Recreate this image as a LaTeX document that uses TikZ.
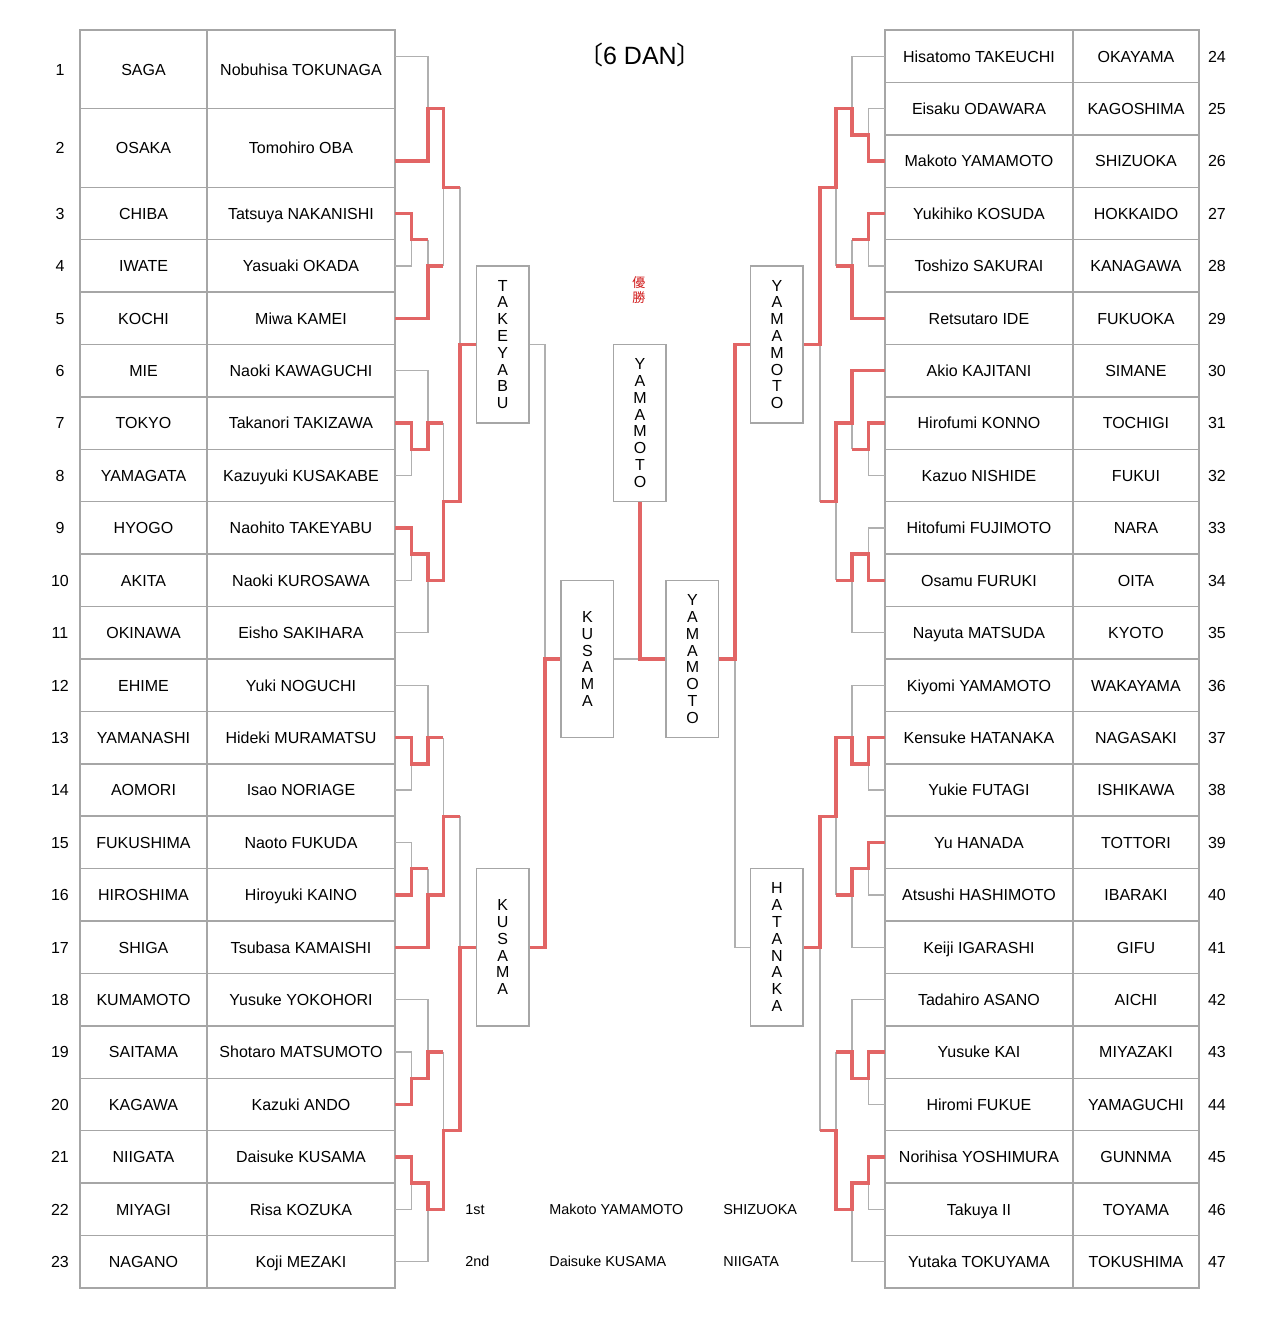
\documentclass[tikz,border=0pt]{standalone}
\usepackage{fontspec}
\setmainfont{Liberation Sans}
\newfontfamily\jpfont{Noto Sans CJK JP}
\usetikzlibrary{positioning}
\definecolor{winred}{HTML}{E26565}
\definecolor{linegray}{HTML}{B0B0B0}
\definecolor{tabgray}{HTML}{A6A6A6}
\definecolor{titlered}{HTML}{D01818}

\begin{document}
\begin{tikzpicture}[x=0.5pt, y=-13.104pt,
  font=\fontsize{8}{9.6}\selectfont,
  cell/.style={draw=tabgray, line width=0.75pt, inner sep=0pt, text height=5.8pt, text depth=0pt},
  prefcell/.style={cell, minimum width=63.5pt},
  namecell/.style={cell, minimum width=94pt},
  numlbl/.style={inner sep=0pt, text height=5.8pt, text depth=0pt},
  lost/.style={draw=linegray, line width=0.7pt},
  won/.style={draw=winred, line width=1.7pt},
  rbox/.style={draw=tabgray, fill=white, line width=0.75pt, inner sep=0pt,
               minimum width=26.25pt, minimum height=78.62pt, align=center,
               font=\fontsize{8}{8.4}\selectfont},
  res/.style={font=\fontsize{7.2}{8}\selectfont, anchor=west, inner sep=0pt,
              text height=5.2pt, text depth=0pt},
]
\useasboundingbox (0,-1.1447) rectangle (1280,49.2225);

% left table
\foreach \pref/\name [count=\i] in {SAGA/Nobuhisa TOKUNAGA, OSAKA/Tomohiro OBA,
    CHIBA/Tatsuya NAKANISHI, IWATE/Yasuaki OKADA, KOCHI/Miwa KAMEI,
    MIE/Naoki KAWAGUCHI, TOKYO/Takanori TAKIZAWA, YAMAGATA/Kazuyuki KUSAKABE,
    HYOGO/Naohito TAKEYABU, AKITA/Naoki KUROSAWA, OKINAWA/Eisho SAKIHARA,
    EHIME/Yuki NOGUCHI, YAMANASHI/Hideki MURAMATSU, AOMORI/Isao NORIAGE,
    FUKUSHIMA/Naoto FUKUDA, HIROSHIMA/Hiroyuki KAINO, SHIGA/Tsubasa KAMAISHI,
    KUMAMOTO/Yusuke YOKOHORI, SAITAMA/Shotaro MATSUMOTO, KAGAWA/Kazuki ANDO,
    NIIGATA/Daisuke KUSAMA, MIYAGI/Risa KOZUKA, NAGANO/Koji MEZAKI}{
  \pgfmathsetmacro{\yc}{\i<3 ? 3*\i-1.5 : 2*\i+1}
  \pgfmathsetmacro{\hh}{\i<3 ? 39.312 : 26.208}
  \pgfmathsetmacro{\yl}{\i==1 ? 1 : (\i==2 ? 5 : 2*\i+1)}
  \node[prefcell, minimum height=\hh pt] (lp\i) at (143.5,\yc) {\pref};
  \node[namecell, minimum height=\hh pt] (ln\i) at (301,\yc) {\name};
  \node[numlbl] (lno\i) at (60,\yc) {\i};
  \coordinate (pl\i) at (395,\yl);
}

% right table
\foreach \name/\pref [count=\j from 24] in {Hisatomo TAKEUCHI/OKAYAMA,
    Eisaku ODAWARA/KAGOSHIMA, Makoto YAMAMOTO/SHIZUOKA, Yukihiko KOSUDA/HOKKAIDO,
    Toshizo SAKURAI/KANAGAWA, Retsutaro IDE/FUKUOKA, Akio KAJITANI/SIMANE,
    Hirofumi KONNO/TOCHIGI, Kazuo NISHIDE/FUKUI, Hitofumi FUJIMOTO/NARA,
    Osamu FURUKI/OITA, Nayuta MATSUDA/KYOTO, Kiyomi YAMAMOTO/WAKAYAMA,
    Kensuke HATANAKA/NAGASAKI, Yukie FUTAGI/ISHIKAWA, Yu HANADA/TOTTORI,
    Atsushi HASHIMOTO/IBARAKI, Keiji IGARASHI/GIFU, Tadahiro ASANO/AICHI,
    Yusuke KAI/MIYAZAKI, Hiromi FUKUE/YAMAGUCHI, Norihisa YOSHIMURA/GUNNMA,
    Takuya II/TOYAMA, Yutaka TOKUYAMA/TOKUSHIMA}{
  \pgfmathsetmacro{\yc}{2*(\j-24)+1}
  \node[namecell, minimum height=26.208pt] (rn\j) at (979,\yc) {\name};
  \node[prefcell, minimum width=63pt, minimum height=26.208pt] (rp\j) at (1136,\yc) {\pref};
  \node[numlbl] (rno\j) at (1217,\yc) {\j};
  \coordinate (pr\j) at (885,\yc);
}

% round boxes
\node[rbox] (tak) at (502.75,12) {T\\A\\K\\E\\Y\\A\\B\\U};
\node[rbox] (kusl) at (502.75,35) {K\\U\\S\\A\\M\\A};
\node[rbox] (kusc) at (587.5,24) {K\\U\\S\\A\\M\\A};
\node[rbox] (champ) at (640,15) {Y\\A\\M\\A\\M\\O\\T\\O};
\node[rbox] (yamf) at (692.5,24) {Y\\A\\M\\A\\M\\O\\T\\O};
\node[rbox] (yamr) at (777,12) {Y\\A\\M\\A\\M\\O\\T\\O};
\node[rbox] (hata) at (777,35) {H\\A\\T\\A\\N\\A\\K\\A};

\node[font=\fontsize{12.5}{14}\selectfont] (title) at (640,0.95) {{\jpfont 〔}6 DAN{\jpfont 〕}};
\node[text=titlered, font=\jpfont\fontsize{6.5}{7.5}\selectfont, align=center, inner sep=0pt]
  (yusho) at (639,9.94) {優\\勝};

% left bracket, losers
\draw[lost] (pl1) -| (428,3);
\draw[lost] (pl4) -| (411.5,8);
\draw[lost] (428,8) -- (428,9);
\draw[lost] (443.5,9) -- (443.5,6);
\draw[lost] (460,6) -- (460,12);
\draw[lost] (pl6) -| (428,15);
\draw[lost] (pl8) -| (411.5,16);
\draw[lost] (443.5,15) -- (443.5,18);
\draw[lost] (pl10) -| (411.5,20);
\draw[lost] (pl11) -| (428,21);
\draw[lost] (pl12) -| (428,27);
\draw[lost] (pl14) -| (411.5,28);
\draw[lost] (443.5,27) -- (443.5,30);
\draw[lost] (pl15) -| (411.5,32);
\draw[lost] (428,32) -- (428,33);
\draw[lost] (460,30) -- (460,35);
\draw[lost] (pl18) -| (428,39);
\draw[lost] (pl19) -| (411.5,40);
\draw[lost] (443.5,39) -- (443.5,42);
\draw[lost] (pl22) -| (411.5,44);
\draw[lost] (pl23) -| (428,45);

% right bracket, losers
\draw[lost] (pr24) -| (852,3);
\draw[lost] (pr25) -| (868.5,4);
\draw[lost] (pr28) -| (868.5,8);
\draw[lost] (852,8) -- (852,9);
\draw[lost] (836,9) -- (836,6);
\draw[lost] (852,16) -- (852,15);
\draw[lost] (pr32) -| (868.5,16);
\draw[lost] (pr33) -| (868.5,20);
\draw[lost] (pr35) -| (852,21);
\draw[lost] (836,21) -- (836,18);
\draw[lost] (820,18) -- (820,12);
\draw[lost] (pr36) -| (852,27);
\draw[lost] (pr38) -| (868.5,28);
\draw[lost] (pr40) -| (868.5,32);
\draw[lost] (pr41) -| (852,33);
\draw[lost] (836,33) -- (836,30);
\draw[lost] (pr42) -| (852,39);
\draw[lost] (pr44) -| (868.5,40);
\draw[lost] (836,39) -- (836,42);
\draw[lost] (pr46) -| (868.5,44);
\draw[lost] (pr47) -| (852,45);
\draw[lost] (820,42) -- (820,35);

% center, losers
\draw[lost] (tak.east) -| (545,24);
\draw[lost] (kusc.east) -- (640,24);
\draw[lost] (735,24) |- (hata.west);

% winners
\draw[won] (pl2) -| (428,3) -| (443.5,6) -- (460,6);
\draw[won] (pl3) -| (411.5,8) -- (428,8);
\draw[won] (pl5) -| (428,9) -- (443.5,9);
\draw[won] (pl7) -| (411.5,16) -| (428,15) -- (443.5,15);
\draw[won] (pl9) -| (411.5,20) -| (428,21) -| (443.5,18) -| (460,12) -- (tak.west);
\draw[won] (pl13) -| (411.5,28) -| (428,27) -- (443.5,27);
\draw[won] (pl16) -| (411.5,32) -- (428,32);
\draw[won] (pl17) -| (428,33) -| (443.5,30) -- (460,30);
\draw[won] (pl20) -| (411.5,40) -| (428,39) -- (443.5,39);
\draw[won] (pl21) -| (411.5,44) -| (428,45) -| (443.5,42) -| (460,35) -- (kusl.west);

\draw[won] (pr26) -| (868.5,4) -| (852,3) -| (836,6) -| (820,12) -- (yamr.east);
\draw[won] (pr27) -| (868.5,8) -- (852,8);
\draw[won] (pr29) -| (852,9) -- (836,9);
\draw[won] (pr30) -| (852,15) -| (836,18) -- (820,18);
\draw[won] (pr31) -| (868.5,16) -- (852,16);
\draw[won] (pr34) -| (868.5,20) -| (852,21) -- (836,21);
\draw[won] (pr37) -| (868.5,28) -| (852,27) -| (836,30) -| (820,35) -- (hata.east);
\draw[won] (pr39) -| (868.5,32) -| (852,33) -- (836,33);
\draw[won] (pr43) -| (868.5,40) -| (852,39) -- (836,39);
\draw[won] (pr45) -| (868.5,44) -| (852,45) -| (836,42) -- (820,42);

\draw[won] (kusl.east) -| (545,24) -- (kusc.west);
\draw[won] (yamf.west) -- (640,24) -- (champ.south);
\draw[won] (yamf.east) -| (735,12) -- (yamr.west);

% results
\node[res] (first) at (465,45) {1st};
\node[res] (firstname) at (549,45) {Makoto YAMAMOTO};
\node[res] (firstpref) at (723,45) {SHIZUOKA};
\node[res] (second) at (465,47) {2nd};
\node[res] (secondname) at (549,47) {Daisuke KUSAMA};
\node[res] (secondpref) at (723,47) {NIIGATA};
\end{tikzpicture}
\end{document}
